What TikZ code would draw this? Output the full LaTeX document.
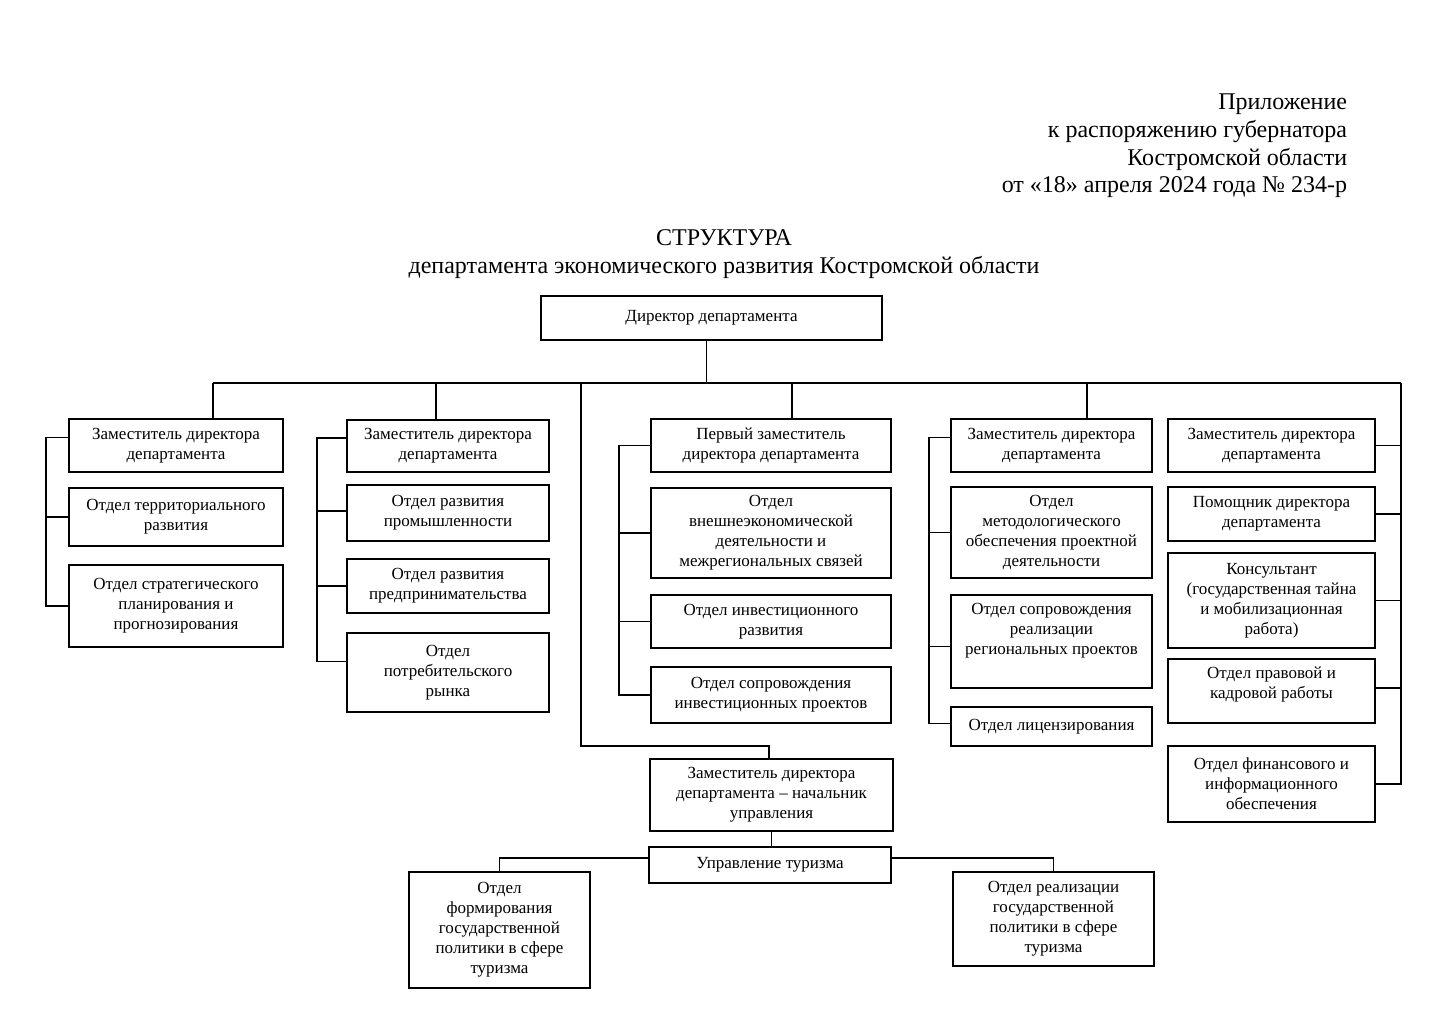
\documentclass[tikz,border=0pt]{standalone}
\usepackage{fontspec}
\setmainfont{Liberation Serif}
\usetikzlibrary{positioning}

\begin{document}
\begin{tikzpicture}[x=1pt, y=-1pt, line width=1.2pt]
	\useasboundingbox (0,0) rectangle (1448,1024);

	% header
	\node[align=right, anchor=east, font=\fontsize{24}{27.7}\selectfont] (hdr) at (1351,146)
		{Приложение\\к распоряжению губернатора\\Костромской области\\от «18» апреля 2024 года №~234-р};
	\node[align=center, font=\fontsize{24}{28}\selectfont] (ttl) at (724,254)
		{СТРУКТУРА\\департамента экономического развития Костромской области};

	\begin{scope}[every node/.style={draw, rectangle, align=center, inner sep=2pt,
	              font=\fontsize{17}{20}\selectfont}]
		\node[minimum width=341, minimum height=44] (dir) at (711.5,318) {Директор департамента};

		\node[minimum width=214, minimum height=53] (d1a) at (176,445.5) {Заместитель директора\\департамента};
		\node[minimum width=214, minimum height=58] (d1b) at (176,517) {Отдел территориального\\развития};
		\node[minimum width=214, minimum height=82] (d1c) at (176,606) {Отдел стратегического\\планирования и\\прогнозирования};

		\node[minimum width=202, minimum height=52] (d2a) at (448,446) {Заместитель директора\\департамента};
		\node[minimum width=202, minimum height=56] (d2b) at (448,513) {Отдел развития\\промышленности};
		\node[minimum width=202, minimum height=54] (d2c) at (448,586) {Отдел развития\\предпринимательства};
		\node[minimum width=202, minimum height=79] (d2d) at (448,672.5) {Отдел\\потребительского\\рынка};

		\node[minimum width=240, minimum height=53] (d3a) at (771,445.5) {Первый заместитель\\директора департамента};
		\node[minimum width=240, minimum height=90] (d3b) at (771,533) {Отдел\\внешнеэкономической\\деятельности и\\межрегиональных связей};
		\node[minimum width=240, minimum height=53] (d3c) at (771,621.5) {Отдел инвестиционного\\развития};
		\node[minimum width=240, minimum height=56] (d3d) at (771,695) {Отдел сопровождения\\инвестиционных проектов};

		\node[minimum width=201, minimum height=53] (d4a) at (1051.5,445.5) {Заместитель директора\\департамента};
		\node[minimum width=201, minimum height=91] (d4b) at (1051.5,532.5) {Отдел\\методологического\\обеспечения проектной\\деятельности};
		\node[minimum width=201, minimum height=93] (d4c) at (1051.5,641.5) {Отдел сопровождения\\реализации\\региональных проектов\\\strut};
		\node[minimum width=201, minimum height=39] (d4d) at (1051.5,726.5) {Отдел лицензирования};

		\node[minimum width=207, minimum height=53] (d5a) at (1271.5,445.5) {Заместитель директора\\департамента};
		\node[minimum width=207, minimum height=54] (d5b) at (1271.5,514) {Помощник директора\\департамента};
		\node[minimum width=207, minimum height=95] (d5c) at (1271.5,600.5) {Консультант\\(государственная тайна\\и мобилизационная\\работа)};
		\node[minimum width=207, minimum height=64] (d5d) at (1271.5,691) {Отдел правовой и\\кадровой работы\\[-10pt]\strut};
		\node[minimum width=207, minimum height=76] (d5e) at (1271.5,784) {Отдел финансового и\\информационного\\обеспечения};

		\node[minimum width=243, minimum height=72] (dep) at (771.5,795) {Заместитель директора\\департамента – начальник\\управления};
		\node[minimum width=242, minimum height=36] (tur) at (770,865) {Управление туризма};
		\node[minimum width=181, minimum height=116] (ot1) at (499.5,930) {Отдел\\формирования\\государственной\\политики в сфере\\туризма};
		\node[minimum width=201, minimum height=94] (ot2) at (1053.5,919) {Отдел реализации\\государственной\\политики в сфере\\туризма};
	\end{scope}

	% main bus
	\coordinate (jL) at (213,383);
	\coordinate (j2) at (436,383);
	\coordinate (j3) at (581,383);
	\coordinate (j4) at (792,383);
	\coordinate (j5) at (1087,383);
	\coordinate (jR) at (1401,383);
	\coordinate (k6) at (769,746);
	\coordinate (top) at ([xshift=-5pt]dir.south);

	\draw (top) -- (top |- jL);
	\draw (jL) -- (jR);
	\draw (jL) -- (jL |- d1a.north);
	\draw (j2) -- (j2 |- d2a.north);
	\draw (j4) -- (j4 |- d3a.north);
	\draw (j5) -- (j5 |- d4a.north);
	\draw (j3) |- (k6) -- (k6 |- dep.north);

	% column buses
	\coordinate (b1) at (46,0);
	\coordinate (b2) at (317,0);
	\coordinate (b3) at (619,0);
	\coordinate (b4) at (929,0);
	\coordinate (p1a) at ([yshift=8pt]d1a.west);
	\coordinate (p2a) at ([yshift=8pt]d2a.west);
	\coordinate (p2b) at ([yshift=2pt]d2b.west);
	\coordinate (p2d) at ([yshift=11pt]d2d.west);
	\coordinate (p4a) at ([yshift=8pt]d4a.west);
	\coordinate (p4c) at ([yshift=-5pt]d4c.west);
	\coordinate (p4d) at ([yshift=3pt]d4d.west);
	\coordinate (p5d) at ([yshift=3pt]d5d.east);

	\draw (p1a) -| (b1 |- d1c.west) -- (d1c.west);
	\draw (d1b.west) -- (d1b.west -| b1);

	\draw (p2a) -| (b2 |- p2d) -- (p2d);
	\draw (p2b) -- (p2b -| b2);
	\draw (d2c.west) -- (d2c.west -| b2);

	\draw (d3a.west) -| (b3 |- d3d.west) -- (d3d.west);
	\draw (d3b.west) -- (d3b.west -| b3);
	\draw (d3c.west) -- (d3c.west -| b3);

	\draw (p4a) -| (b4 |- p4d) -- (p4d);
	\draw (d4b.west) -- (d4b.west -| b4);
	\draw (p4c) -- (p4c -| b4);

	\draw (jR) |- (d5e.east);
	\draw (d5a.east) -- (d5a.east -| jR);
	\draw (d5b.east) -- (d5b.east -| jR);
	\draw (d5c.east) -- (d5c.east -| jR);
	\draw (p5d) -- (p5d -| jR);

	% tourism
	\coordinate (tw) at ([yshift=7pt]tur.west);
	\coordinate (te) at ([yshift=7pt]tur.east);
	\draw (dep.south) -- (dep.south |- tur.north);
	\draw (tw) -| (ot1.north);
	\draw (te) -| (ot2.north);
\end{tikzpicture}
\end{document}
